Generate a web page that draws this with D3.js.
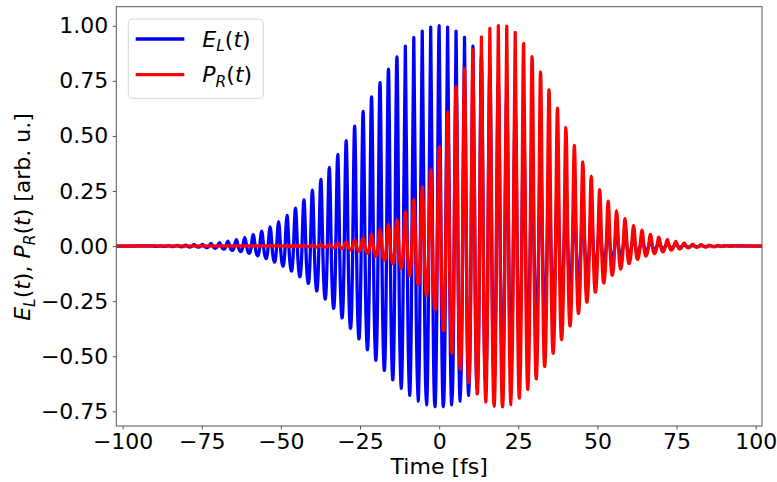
<!DOCTYPE html>
<html>
<head>
<meta charset="utf-8">
<script src="https://cdn.jsdelivr.net/npm/d3@7"></script>
<style>
  html, body { margin: 0; padding: 0; background: #fff; }
  svg { display: block; font-family: "DejaVu Sans", sans-serif; }
</style>
</head>
<body>
<svg id="chart" width="777" height="482"></svg>
<script>
// ---- data ----
const period = 2.67;               // fs, spacing of successive maxima
const xTicks = [-100, -75, -50, -25, 0, 25, 50, 75, 100];
const yTicks = [-0.75, -0.5, -0.25, 0, 0.25, 0.5, 0.75, 1.0];

// E_L(t): maxima at k*period, k starting at elStartK
const elStartK = -34;
const elPeaks = [0.001,0.001,0.002,0.003,0.004,0.006,0.008,0.012,0.016,0.022,0.030,0.040,0.052,0.068,0.087,0.111,0.139,0.172,0.210,0.254,0.303,0.357,0.416,0.478,0.544,0.611,0.677,0.742,0.803,0.859,0.907,0.947,0.976,0.994,
  1.000,
  0.994,0.976,0.947,0.907,0.859,0.803,0.742,0.677,0.611,0.544,0.478,0.416,0.357,0.303,0.254,0.210,0.172,0.139,0.111,0.087,0.068,0.052,0.040,0.030,0.022,0.016,0.012,0.008,0.006,0.004,0.003,0.002,0.001,0.001];
const elTroughs = [-0.001,-0.001,-0.002,-0.003,-0.004,-0.005,-0.007,-0.010,-0.014,-0.019,-0.025,-0.033,-0.044,-0.056,-0.072,-0.091,-0.113,-0.139,-0.169,-0.203,-0.240,-0.282,-0.326,-0.373,-0.421,-0.470,-0.518,-0.564,-0.607,-0.645,-0.677,-0.703,-0.720,-0.729,
  -0.729,-0.720,-0.703,-0.677,-0.645,-0.607,-0.564,-0.518,-0.470,-0.421,-0.373,-0.326,-0.282,-0.240,-0.203,-0.169,-0.139,-0.113,-0.091,-0.072,-0.056,-0.044,-0.033,-0.025,-0.019,-0.014,-0.010,-0.007,-0.005,-0.004,-0.003,-0.002,-0.001,-0.001];
const elShoulders = [0,0,0,-0.001,-0.001,-0.001,-0.001,-0.002,-0.003,-0.004,-0.005,-0.006,-0.008,-0.010,-0.013,-0.017,-0.021,-0.026,-0.031,-0.038,-0.044,-0.052,-0.060,-0.069,-0.078,-0.087,-0.096,-0.104,-0.112,-0.119,-0.125,-0.130,-0.133,-0.135,
  -0.135,-0.133,-0.130,-0.125,-0.119,-0.112,-0.104,-0.096,-0.087,-0.078,-0.069,-0.060,-0.052,-0.044,-0.038,-0.031,-0.026,-0.021,-0.017,-0.013,-0.010,-0.008,-0.006,-0.005,-0.004,-0.003,-0.002,-0.001,-0.001,-0.001,-0.001,0,0,0];

// P_R(t)
const prStartK = -18;
const prPeaks = [0.001,0.002,0.003,0.004,0.006,0.009,0.013,0.019,0.027,0.038,0.053,0.075,0.098,0.120,0.158,0.211,0.270,0.347,
  0.450,0.610,0.724,0.807,0.890,0.950,0.988,1.000,0.998,0.970,0.920,0.860,0.790,0.709,0.626,0.538,0.457,0.382,0.317,0.256,
  0.204,0.160,0.125,0.094,0.072,0.053,0.041,0.030,0.021,0.014,0.009,0.006,0.004,0.003,0.002,0.001];
const prTroughs = [-0.001,-0.002,-0.003,-0.004,-0.005,-0.008,-0.011,-0.017,-0.023,-0.033,-0.046,-0.063,-0.079,-0.100,-0.133,-0.174,-0.224,-0.288,
  -0.382,-0.485,-0.558,-0.619,-0.671,-0.707,-0.726,-0.730,-0.719,-0.690,-0.650,-0.602,-0.546,-0.486,-0.424,-0.362,-0.305,-0.254,-0.208,-0.167,
  -0.132,-0.104,-0.079,-0.060,-0.045,-0.034,-0.026,-0.018,-0.013,-0.008,-0.005,-0.004,-0.003,-0.002,-0.001];
const prShoulders = [0,0,-0.001,-0.001,-0.001,-0.001,-0.002,-0.003,-0.004,-0.006,-0.009,-0.012,-0.015,-0.019,-0.025,-0.032,-0.041,-0.053,
  -0.071,-0.090,-0.103,-0.115,-0.124,-0.131,-0.134,-0.135,-0.133,-0.128,-0.120,-0.111,-0.101,-0.090,-0.078,-0.067,-0.056,-0.047,-0.038,-0.031,
  -0.024,-0.019,-0.015,-0.011,-0.008,-0.006,-0.005,-0.003,-0.002,-0.001,-0.001,-0.001,-0.001,0,0];

const xDomain = [-102, 102];
const yDomain = [-0.8165, 1.0865];

// ---- layout ----
const plot = {left: 116.3, right: 762.0, top: 6.7, bottom: 426};
const svg = d3.select("#chart");
const x = d3.scaleLinear().domain(xDomain).range([plot.left, plot.right]);
const y = d3.scaleLinear().domain(yDomain).range([plot.bottom, plot.top]);

function buildSeries(startK, peaks, troughs, shoulders) {
  const pts = [[xDomain[0], 0]];
  peaks.forEach((p, i) => {
    const t = (startK + i) * period;
    pts.push([t, p]);
    if (i < troughs.length) {
      pts.push([t + period / 4, shoulders[i]]);
      pts.push([t + period / 2, troughs[i]]);
      pts.push([t + 3 * period / 4, shoulders[i]]);
    }
  });
  pts.push([xDomain[1], 0]);
  return pts;
}

const series = [
  {name: "E", sub: "L", color: "#0000ff", pts: buildSeries(elStartK, elPeaks, elTroughs, elShoulders)},
  {name: "P", sub: "R", color: "#ff0000", pts: buildSeries(prStartK, prPeaks, prTroughs, prShoulders)}
];

svg.append("defs").append("clipPath").attr("id", "clip")
  .append("rect").attr("x", plot.left).attr("y", plot.top)
  .attr("width", plot.right - plot.left).attr("height", plot.bottom - plot.top);

const line = d3.line().x(d => x(d[0])).y(d => y(d[1])).curve(d3.curveNatural);

const g = svg.append("g").attr("clip-path", "url(#clip)");
series.forEach(s => {
  g.append("path").attr("d", line(s.pts))
    .attr("fill", "none").attr("stroke", s.color)
    .attr("stroke-width", 3.3).attr("stroke-linejoin", "round");
});

// frame
svg.append("rect").attr("x", plot.left).attr("y", plot.top)
  .attr("width", plot.right - plot.left).attr("height", plot.bottom - plot.top)
  .attr("fill", "none").attr("stroke", "#555").attr("stroke-width", 1);

// axes
const fs = 22;
const xAxis = svg.append("g").attr("transform", `translate(0,${plot.bottom})`)
  .call(d3.axisBottom(x).tickValues(xTicks).tickFormat(d3.format("d")).tickSize(3.5).tickPadding(4));
const yAxis = svg.append("g").attr("transform", `translate(${plot.left},0)`)
  .call(d3.axisLeft(y).tickValues(yTicks).tickFormat(d3.format(".2f")).tickSize(3.5).tickPadding(4.5));
[xAxis, yAxis].forEach(a => {
  a.select(".domain").remove();
  a.selectAll(".tick line").attr("stroke", "#555");
  a.selectAll(".tick text").attr("font-size", fs).attr("fill", "#000")
    .attr("font-family", "DejaVu Sans, sans-serif");
});
xAxis.selectAll(".tick text").attr("dy", "0.72em");

// axis titles
svg.append("text").attr("x", 439.2).attr("y", 474).attr("text-anchor", "middle")
  .attr("font-size", fs).attr("fill", "#000").text("Time [fs]");

function mathLabel(sel, name, sub) {
  sel.append("tspan").attr("font-style", "italic").text(name);
  sel.append("tspan").attr("font-style", "italic").attr("font-size", fs * 0.7).attr("dy", 4.6).text(sub);
  sel.append("tspan").attr("dy", -4.6).text("(");
  sel.append("tspan").attr("font-style", "italic").text("t");
  sel.append("tspan").text(")");
}
const yl = svg.append("text").attr("transform", "translate(30,217) rotate(-90)")
  .attr("text-anchor", "middle").attr("font-size", fs).attr("fill", "#000");
mathLabel(yl, "E", "L");
yl.append("tspan").text(", ");
mathLabel(yl, "P", "R");
yl.append("tspan").text(" [arb. u.]");

// legend
const leg = svg.append("g");
leg.append("rect").attr("x", 128.3).attr("y", 19).attr("width", 135).attr("height", 79.3)
  .attr("rx", 4).attr("fill", "#fff").attr("fill-opacity", 0.8)
  .attr("stroke", "#d6d6d6").attr("stroke-width", 1);
series.forEach((s, i) => {
  const cy = 39 + i * 35.7;
  leg.append("line").attr("x1", 135.7).attr("x2", 184.3).attr("y1", cy).attr("y2", cy)
    .attr("stroke", s.color).attr("stroke-width", 3.3);
  const t = leg.append("text").attr("x", 202.3).attr("y", cy + 7.5)
    .attr("font-size", fs).attr("fill", "#000");
  mathLabel(t, s.name, s.sub);
});
</script>
</body>
</html>
